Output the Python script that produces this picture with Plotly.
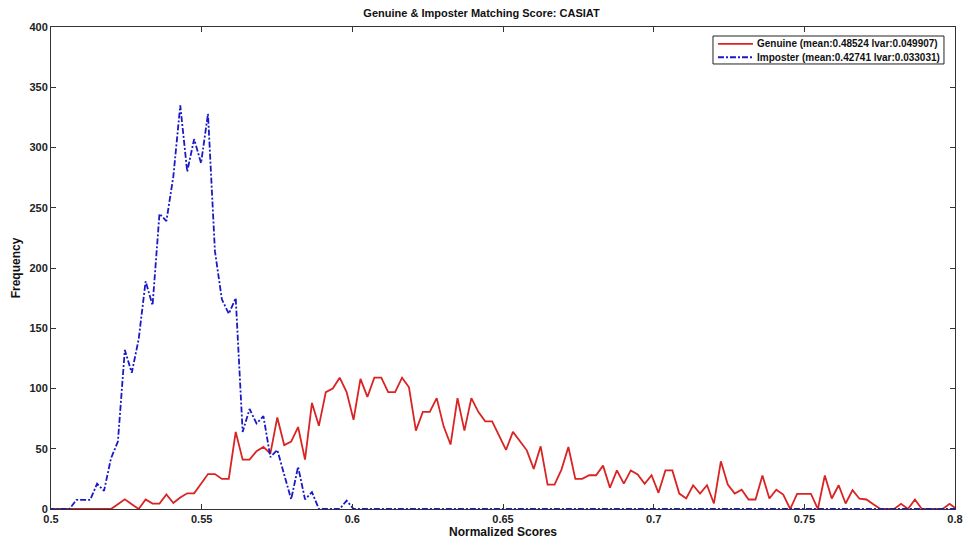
import plotly.graph_objects as go

# Bin centres of the histogram (regular bins)
bin_start = 0.4992
bin_width = 0.0023
n_bins = 132
scores = [round(bin_start + bin_width * k, 5) for k in range(n_bins)]

genuine = [0, 0, 0, 0, 0, 0, 0, 0, 0, 0,
           4, 8, 4, 0, 8, 4.5, 4.5, 12, 5, 9.5,
           13, 13, 21, 29, 29, 25, 25, 64, 41, 41,
           48, 51.5, 46, 76, 53, 56, 68, 41, 88, 69,
           97, 100, 109, 97, 74, 108, 93, 109, 109, 97,
           97, 109, 101, 65, 80.6, 80.6, 92, 68.6, 53.5, 92,
           65, 92, 80.6, 72.8, 72.8, 61, 49, 64, 56.8, 48.7,
           33.3, 52, 20.3, 20.3, 32.7, 51.5, 25, 25, 28, 28,
           36, 17.6, 32, 21, 32, 28.6, 21, 28, 13.4, 32,
           32, 12.8, 8.7, 19.7, 12.8, 19.7, 4.6, 39.6, 20.3, 12.8,
           16, 7.9, 7.9, 27.8, 8.7, 16, 12, 0, 12.6, 12.6,
           12.6, 0, 27.8, 8.7, 19.7, 4.6, 15.6, 8.5, 7.9, 4,
           0, 0, 0, 4.3, 0, 7.9, 0, 0, 0, 0,
           4.3, 0]

imposter = [0, 0, 0, 0, 7.5, 7.5, 7.5, 21, 15, 42,
            56, 132, 113, 141, 189, 169, 245, 239, 276, 335,
            280, 307, 287, 328, 214, 174, 162, 175, 64, 83,
            71, 77, 43, 49, 28, 8, 35, 8, 14, 0,
            0, 0, 0, 7, 0] + [0] * (n_bins - 45)

genuine_name = "Genuine (mean:0.48524 lvar:0.049907)"
imposter_name = "Imposter (mean:0.42741 lvar:0.033031)"

x_ticks = [0.5, 0.55, 0.6, 0.65, 0.7, 0.75, 0.8]
x_tick_text = ["0.5", "0.55", "0.6", "0.65", "0.7", "0.75", "0.8"]
y_ticks = [0, 50, 100, 150, 200, 250, 300, 350, 400]

FONT = "Liberation Sans Narrow, Liberation Sans, Arial, sans-serif"
RED = "rgb(218,35,35)"
BLUE = "rgb(25,25,200)"
BLUE_DASH = "6px,2px,2px,2px"

fig = go.Figure()
fig.add_trace(go.Scatter(x=scores, y=genuine, mode="lines", name=genuine_name,
                         line=dict(color=RED, width=1.8)))
fig.add_trace(go.Scatter(x=scores, y=imposter, mode="lines", name=imposter_name,
                         line=dict(color=BLUE, width=1.8, dash=BLUE_DASH)))

axis_common = dict(showline=True, linecolor="#333", linewidth=1, mirror="ticks",
                   ticks="inside", ticklen=5, tickcolor="#333", showgrid=False,
                   zeroline=False, automargin=False,
                   tickfont=dict(family=FONT, size=11, color="#222"))

# Compact MATLAB-style legend box (decoration in paper coordinates)
legend_box = dict(x0=0.7323, x1=0.9878, y0=0.9233, y1=0.9813)
legend_rows = [(genuine_name, RED, "solid", 0.9648), (imposter_name, BLUE, BLUE_DASH, 0.9372)]
shapes = [dict(type="rect", xref="paper", yref="paper", line=dict(color="#222", width=1),
               fillcolor="white", layer="above", **legend_box)]
annotations = []
for name, color, dash, yy in legend_rows:
    shapes.append(dict(type="line", xref="paper", yref="paper", x0=0.7378, x1=0.7765,
                       y0=yy, y1=yy, layer="above", line=dict(color=color, width=1.8, dash=dash)))
    annotations.append(dict(xref="paper", yref="paper", x=0.7788, y=yy, xanchor="left",
                            yanchor="middle", showarrow=False, text="<b>%s</b>" % name,
                            font=dict(family=FONT, size=10, color="#111")))

fig.update_layout(
    width=963, height=545,
    margin=dict(l=51, r=8, t=27, b=36, autoexpand=False),
    paper_bgcolor="white", plot_bgcolor="white",
    title=dict(text="<b>Genuine & Imposter Matching Score: CASIAT</b>",
               x=0.5, xanchor="center", y=0.983, yanchor="top",
               font=dict(family=FONT, size=11, color="#111"), automargin=False),
    xaxis=dict(range=[0.5, 0.8], tickvals=x_ticks, ticktext=["<b>%s</b>" % t for t in x_tick_text],
               title=dict(text="<b>Normalized Scores</b>", standoff=2,
                          font=dict(family=FONT, size=12, color="#111")),
               **axis_common),
    yaxis=dict(range=[0, 400], tickvals=y_ticks, ticktext=["<b>%d</b>" % v for v in y_ticks],
               title=dict(text="<b>Frequency</b>", standoff=6,
                          font=dict(family=FONT, size=12, color="#111")),
               **axis_common),
    shapes=shapes,
    annotations=annotations,
    showlegend=False,
)

fig.write_html("out.html", config={"displayModeBar": False},
               post_script="document.body.style.margin='0';")
